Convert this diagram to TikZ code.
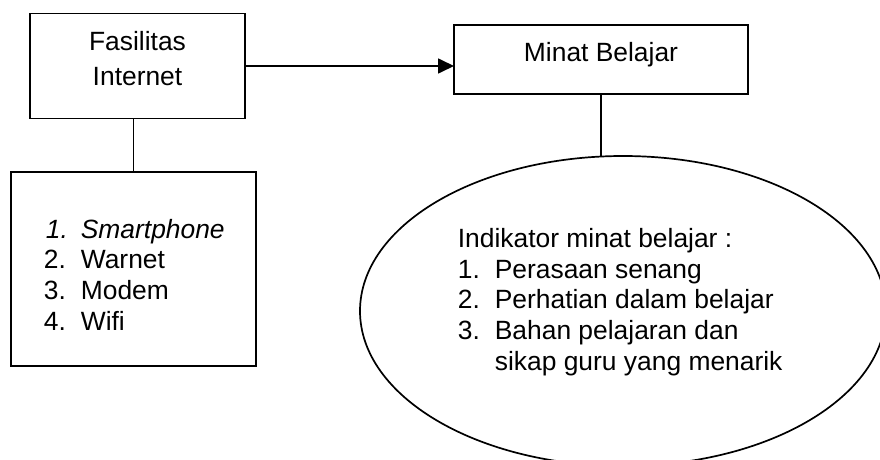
\documentclass[tikz,border=0pt]{standalone}
\usepackage{fontspec}
\setmainfont{Liberation Sans}
\usetikzlibrary{arrows.meta,shapes.geometric}
\begin{document}
\begin{tikzpicture}[x=1pt,y=-1pt,line width=1.7pt,
  box/.style={draw,rectangle,inner sep=0pt,outer sep=0pt},
  oval/.style={draw,ellipse,inner sep=0pt,outer sep=0pt},
  lt/.style={anchor=base west,inner sep=0pt,font=\fontsize{26.4}{30}\selectfont},
  ct/.style={anchor=base,inner sep=0pt,font=\fontsize{26.4}{30}\selectfont},
  arr/.style={-{Triangle[length=16pt,width=15pt]}}]
\useasboundingbox (0,0) rectangle (880,460);
\clip (0,0) rectangle (880,460);
% shapes
\node[box,minimum width=215pt,minimum height=105pt] (fi) at (137.5,66) {};
\node[box,minimum width=294pt,minimum height=69pt] (mb) at (601,59.5) {};
\node[box,minimum width=245pt,minimum height=194pt] (list) at (133.5,269) {};
\node[oval,minimum width=526pt,minimum height=310pt] (ell) at (623,311) {};
% connectors
\draw[arr] (fi.east) -- (fi.east -| mb.west);
\draw (fi.south -| list.north) -- (list.north);
\draw (mb.south) -- (mb.south |- ell.north);
% texts
\node[ct] (fa) at (137.5,50.7) {Fasilitas};
\node[ct] (in) at (137.5,85) {Internet};
\node[ct] (mbt) at (601,61.7) {Minat Belajar};
\node[lt] (n1) at (45,238) {\itshape 1.};
\node[lt] (i1) at (80,238) {\itshape Smartphone};
\node[lt] (n2) at (43,268.5) {2.};
\node[lt] (i2) at (80,268.5) {Warnet};
\node[lt] (n3) at (43,299) {3.};
\node[lt] (i3) at (80,299) {Modem};
\node[lt] (n4) at (43,330) {4.};
\node[lt] (i4) at (80,330) {Wifi};
\node[lt] (hd) at (457,247) {Indikator minat belajar :};
\node[lt] (m1) at (457,278) {1.};
\node[lt] (j1) at (494,278) {Perasaan senang};
\node[lt] (m2) at (457,308.5) {2.};
\node[lt] (j2) at (494,308.5) {Perhatian dalam belajar};
\node[lt] (m3) at (457,339) {3.};
\node[lt] (j3) at (494,339) {Bahan pelajaran dan};
\node[lt] (j4) at (494,370) {sikap guru yang menarik};
\end{tikzpicture}
\end{document}
